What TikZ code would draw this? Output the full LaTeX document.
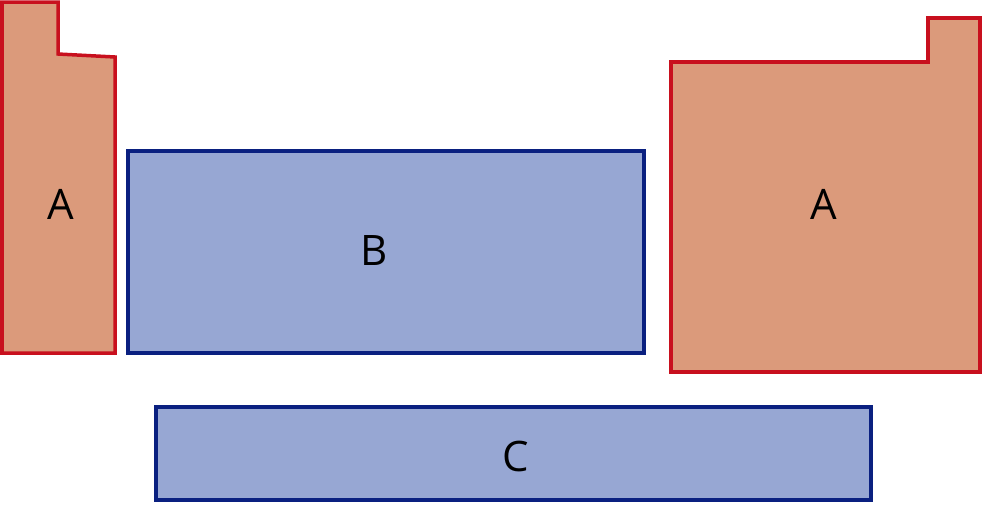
\documentclass[tikz,border=0pt]{standalone}
\usepackage{fontspec}
\setmainfont{Open Sans}
\usetikzlibrary{positioning}
\definecolor{aFill}{HTML}{DB9A7B}
\definecolor{aLine}{HTML}{C8101E}
\definecolor{bFill}{HTML}{97A7D3}
\definecolor{bLine}{HTML}{0A2080}
\begin{document}
\begin{tikzpicture}[x=1pt,y=-1pt]
			\tikzstyle{BlockA}	= [fill=aFill, draw=aLine, line width=3.5pt]
			\tikzstyle{BlockB}	= [fill=bFill, draw=bLine, line width=3.5pt]
			\tikzstyle{Label}	= [font=\fontsize{42}{42}\selectfont, inner sep=0pt]

			\useasboundingbox (0,0) rectangle (983,504);

			\draw [BlockA] (2,2) -- (58,2) -- (58,54) -- (115,57) -- (115,353) -- (2,353) -- cycle;
			\draw [BlockA] (671,62) -- (928,62) -- (928,18) -- (980,18) -- (980,372) -- (671,372) -- cycle;
			\draw [BlockB] (128,151) rectangle (644,353);
			\draw [BlockB] (156,407) rectangle (871,500);

			\node (aLeft) at (61,204) [Label] {A};
			\node (aRight) at (824,204) [Label] {A};
			\node (b) at (374,251) [Label] {B};
			\node (c) at (516,456) [Label] {C};
		\end{tikzpicture}
\end{document}
